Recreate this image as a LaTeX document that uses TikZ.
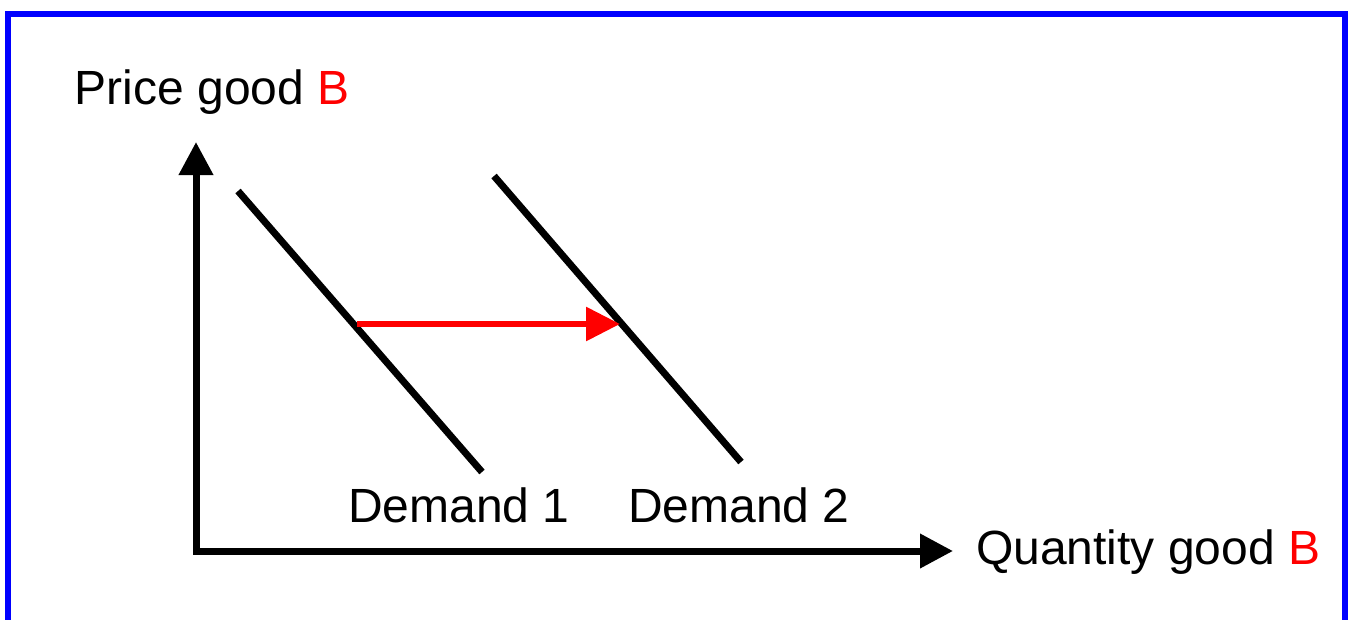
\documentclass[tikz,border=0pt]{standalone}
\usepackage{fontspec}
\setmainfont{Liberation Sans}
\usetikzlibrary{arrows.meta}
\definecolor{frameblue}{RGB}{0,0,255}
\definecolor{shiftred}{RGB}{255,0,0}
\tikzset{
  lbl/.style={anchor=base west, inner sep=0pt, font=\fontsize{48}{52}\selectfont},
  axis/.style={line width=7pt, {Triangle[length=33pt,width=33pt]}-{Triangle[length=33pt,width=33pt]}, line join=miter},
  demand/.style={line width=7pt},
  shiftarrow/.style={draw=shiftred, line width=6pt, -{Triangle[length=34pt,width=33pt]}, shiftred},
}
\begin{document}
\begin{tikzpicture}[x=1pt,y=-1pt]
\path[use as bounding box] (0,0) rectangle (1354,619);
\begin{scope}
\clip (0,0) rectangle (1354,619);
\draw[frameblue, line width=6pt, line join=miter] (8,660) -- (8,14) -- (1345,14) -- (1345,660);
\end{scope}
\coordinate (O) at (196,551);
\coordinate (ytip) at (196,142);
\coordinate (xtip) at (953,551);
\draw[axis] (ytip) -- (O) -- (xtip);
\coordinate (d1a) at (238,191);
\coordinate (d1b) at (482,472);
\coordinate (d2a) at (494,176);
\coordinate (d2b) at (741,462);
\draw[demand] (d1a) -- (d1b);
\draw[demand] (d2a) -- (d2b);
\coordinate (s1) at (357,324);
\coordinate (s2) at (620,324);
\draw[shiftarrow] (s1) -- (s2);
\node[lbl] (py) at (74.5,104) {Price good \textcolor{shiftred}{B}};
\node[lbl] (qx) at (976,564) {Quantity good \textcolor{shiftred}{B}};
\node[lbl] (dl1) at (348,522) {Demand 1};
\node[lbl] (dl2) at (628,522) {Demand 2};
\end{tikzpicture}
\end{document}
